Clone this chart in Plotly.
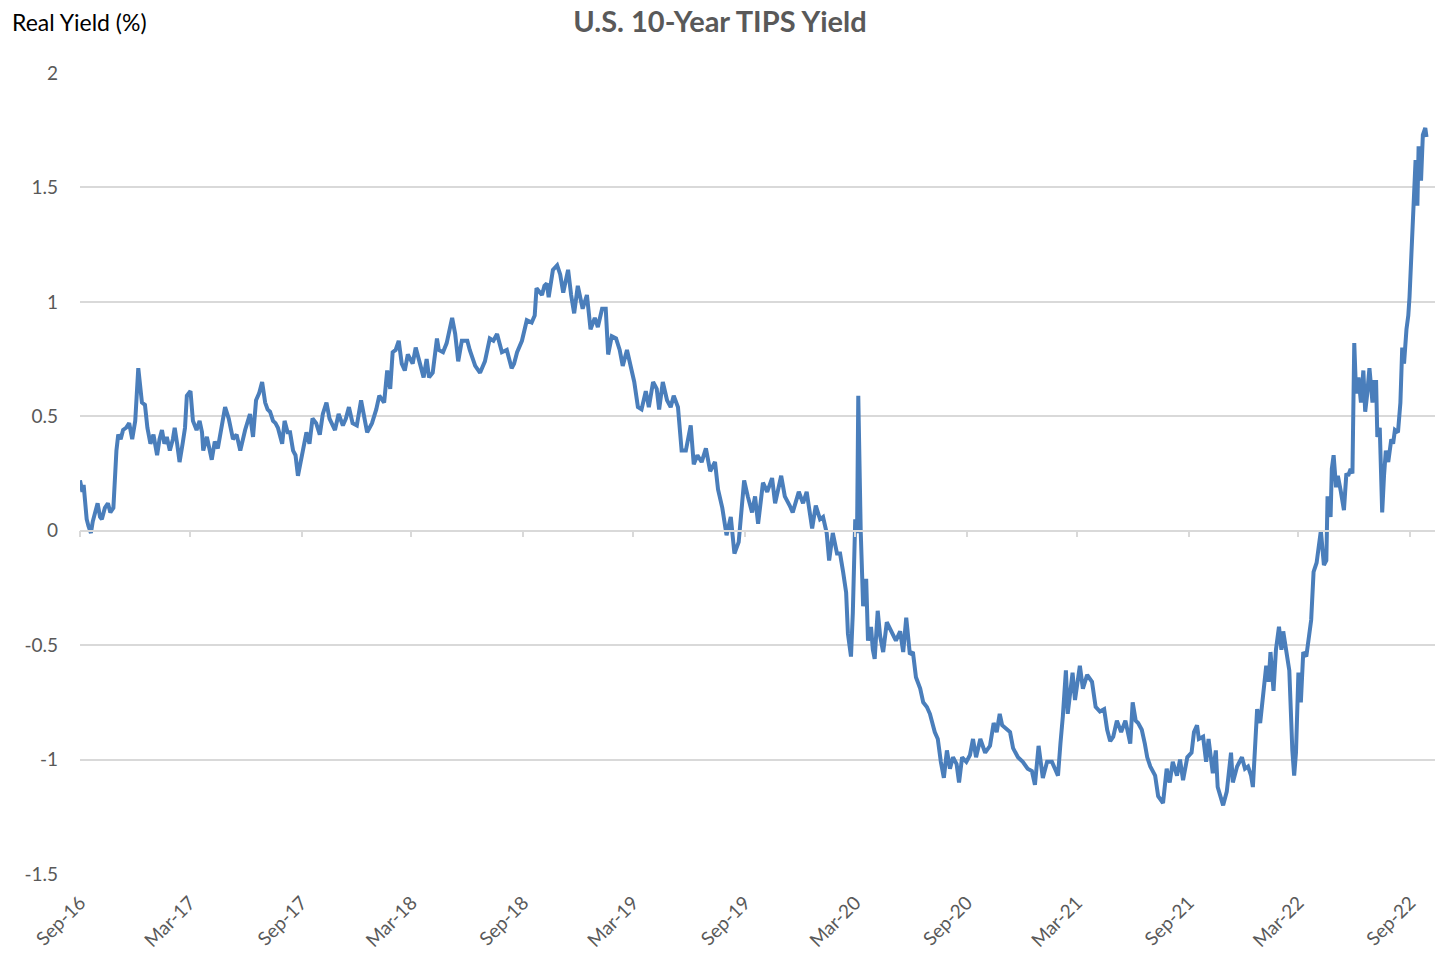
import plotly.graph_objects as go

# ---- data ----
dates = [
"2016-09-01","2016-09-05","2016-09-07","2016-09-12","2016-09-15","2016-09-19","2016-09-22","2016-09-26","2016-09-30",
"2016-10-04","2016-10-07","2016-10-12","2016-10-17","2016-10-21","2016-10-26","2016-10-31",
"2016-11-03","2016-11-07","2016-11-11","2016-11-16","2016-11-21","2016-11-26","2016-12-01","2016-12-06","2016-12-09",
"2016-12-12","2016-12-17","2016-12-21","2016-12-26","2016-12-31",
"2017-01-06","2017-01-10","2017-01-14","2017-01-18","2017-01-22","2017-01-27","2017-02-01","2017-02-04","2017-02-08",
"2017-02-12","2017-02-17","2017-02-21","2017-02-24","2017-03-02","2017-03-06","2017-03-12","2017-03-17","2017-03-21",
"2017-03-23","2017-03-29","2017-04-06","2017-04-11","2017-04-16","2017-04-22","2017-04-28","2017-05-04","2017-05-11",
"2017-05-17","2017-05-23","2017-05-31","2017-06-04","2017-06-08","2017-06-13","2017-06-18","2017-06-23","2017-06-28",
"2017-07-03","2017-07-07","2017-07-11","2017-07-16","2017-07-20","2017-07-24","2017-07-31","2017-08-04","2017-08-09",
"2017-08-13","2017-08-18","2017-08-22","2017-08-26","2017-08-30","2017-09-02","2017-09-09","2017-09-14","2017-09-19",
"2017-09-25","2017-10-01","2017-10-06","2017-10-12","2017-10-17","2017-10-26","2017-11-01","2017-11-08","2017-11-13",
"2017-11-18","2017-11-24","2017-12-01","2017-12-08","2017-12-13","2017-12-18","2017-12-22","2017-12-26",
"2018-01-02","2018-01-07","2018-01-15","2018-01-20","2018-01-25","2018-01-29","2018-02-03","2018-02-08","2018-02-13",
"2018-02-18","2018-02-23","2018-03-03","2018-03-08","2018-03-15","2018-03-21","2018-03-26","2018-03-30","2018-04-05",
"2018-04-12","2018-04-15","2018-04-22","2018-04-28","2018-05-07","2018-05-12","2018-05-17","2018-05-23","2018-06-01",
"2018-06-05","2018-06-14","2018-06-22","2018-06-30","2018-07-08","2018-07-14","2018-07-20","2018-07-28","2018-08-05",
"2018-08-13","2018-08-17","2018-08-22","2018-08-30","2018-09-07","2018-09-15","2018-09-20","2018-09-23","2018-09-28",
"2018-10-02","2018-10-06","2018-10-10","2018-10-13","2018-10-20","2018-10-27","2018-11-01","2018-11-06","2018-11-14",
"2018-11-19","2018-11-24","2018-11-30","2018-12-08","2018-12-15","2018-12-21","2018-12-28",
"2019-01-02","2019-01-09","2019-01-15","2019-01-19","2019-01-25","2019-02-01","2019-02-07","2019-02-12","2019-02-19",
"2019-02-25","2019-03-03","2019-03-09","2019-03-15","2019-03-22","2019-03-27","2019-04-03","2019-04-09","2019-04-13",
"2019-04-19","2019-04-26","2019-05-02","2019-05-07","2019-05-14","2019-05-20","2019-05-27","2019-06-04","2019-06-09",
"2019-06-15","2019-06-22","2019-06-29","2019-07-06","2019-07-14","2019-07-19","2019-07-26","2019-08-02","2019-08-09",
"2019-08-15","2019-08-22","2019-08-31","2019-09-06","2019-09-13","2019-09-18","2019-09-23","2019-10-01","2019-10-08",
"2019-10-16","2019-10-21","2019-10-31","2019-11-06","2019-11-14","2019-11-19","2019-11-29","2019-12-06","2019-12-12",
"2019-12-21","2019-12-27",
"2020-01-03","2020-01-08","2020-01-14","2020-01-18","2020-01-24","2020-01-31","2020-02-05","2020-02-10","2020-02-15",
"2020-02-18","2020-02-23","2020-02-26","2020-03-01","2020-03-04","2020-03-06","2020-03-10","2020-03-14","2020-03-19",
"2020-03-22","2020-03-27","2020-03-30","2020-04-02","2020-04-07","2020-04-11","2020-04-16","2020-04-22","2020-05-01",
"2020-05-07","2020-05-14","2020-05-19","2020-05-24","2020-05-30","2020-06-04","2020-06-09","2020-06-16","2020-06-21",
"2020-06-27","2020-07-02","2020-07-10","2020-07-15","2020-07-20","2020-07-25","2020-07-30","2020-08-04","2020-08-09",
"2020-08-15","2020-08-19","2020-08-24","2020-08-31","2020-09-06","2020-09-11","2020-09-16","2020-09-23","2020-10-01",
"2020-10-09","2020-10-15","2020-10-20","2020-10-25","2020-10-29","2020-11-03","2020-11-11","2020-11-16","2020-11-24",
"2020-12-02","2020-12-10","2020-12-17","2020-12-22","2020-12-28",
"2021-01-04","2021-01-11","2021-01-19","2021-01-24","2021-01-29","2021-02-02","2021-02-06","2021-02-11","2021-02-14",
"2021-02-22","2021-02-26","2021-03-06","2021-03-11","2021-03-18","2021-03-26","2021-04-01","2021-04-08","2021-04-15",
"2021-04-20","2021-04-25","2021-04-30","2021-05-06","2021-05-13","2021-05-20","2021-05-23","2021-05-28","2021-06-01",
"2021-06-06","2021-06-10","2021-06-16","2021-06-21","2021-06-25","2021-06-30","2021-07-08","2021-07-13","2021-07-21",
"2021-07-27","2021-08-01","2021-08-06","2021-08-13","2021-08-18","2021-08-23","2021-08-30","2021-09-06","2021-09-10",
"2021-09-15","2021-09-18","2021-09-25","2021-09-30","2021-10-04","2021-10-11","2021-10-16","2021-10-19","2021-10-28",
"2021-11-03","2021-11-10","2021-11-13","2021-11-20","2021-11-28","2021-12-03","2021-12-08","2021-12-13","2021-12-16",
"2021-12-23","2021-12-28",
"2022-01-03","2022-01-07","2022-01-11","2022-01-14","2022-01-19","2022-01-23","2022-01-28","2022-02-01","2022-02-04",
"2022-02-10","2022-02-14","2022-02-19","2022-02-22","2022-02-25","2022-03-01","2022-03-05","2022-03-09","2022-03-14",
"2022-03-17","2022-03-22","2022-03-26","2022-03-31","2022-04-03","2022-04-07","2022-04-12","2022-04-16","2022-04-18",
"2022-04-23","2022-04-25","2022-04-28","2022-05-02","2022-05-05","2022-05-10","2022-05-15","2022-05-19","2022-05-22",
"2022-05-26","2022-05-29","2022-06-01","2022-06-04","2022-06-08","2022-06-12","2022-06-16","2022-06-19","2022-06-22",
"2022-06-26","2022-07-01","2022-07-03","2022-07-07","2022-07-09","2022-07-13","2022-07-17","2022-07-20","2022-07-23",
"2022-07-27","2022-08-01","2022-08-04","2022-08-07","2022-08-12","2022-08-16","2022-08-19","2022-08-22","2022-08-26",
"2022-08-29","2022-08-31","2022-09-04","2022-09-07","2022-09-10","2022-09-13","2022-09-15","2022-09-19","2022-09-22",
"2022-09-26","2022-09-28",
]

real_yield = [
0.22,0.17,0.20,0.05,0.02,-0.01,0.04,0.08,0.12,
0.06,0.05,0.10,0.12,0.08,0.10,0.35,
0.42,0.40,0.44,0.45,0.47,0.40,0.48,0.71,0.62,
0.56,0.55,0.45,0.38,0.42,
0.33,0.40,0.44,0.38,0.41,0.35,0.40,0.45,0.38,
0.30,0.38,0.45,0.59,0.61,0.48,0.44,0.48,0.43,
0.35,0.41,0.31,0.39,0.36,0.45,0.54,0.49,0.40,
0.42,0.35,0.44,0.48,0.51,0.41,0.57,0.60,0.65,
0.56,0.53,0.52,0.48,0.47,0.45,0.38,0.48,0.43,
0.43,0.35,0.33,0.24,0.30,0.34,0.43,0.38,0.49,
0.47,0.42,0.51,0.56,0.49,0.44,0.51,0.46,0.49,
0.54,0.47,0.46,0.57,0.50,0.43,0.45,0.47,
0.53,0.59,0.56,0.70,0.62,0.78,0.79,0.83,0.73,
0.70,0.77,0.73,0.80,0.72,0.67,0.75,0.67,0.69,
0.84,0.79,0.78,0.82,0.93,0.86,0.74,0.83,0.83,
0.79,0.72,0.69,0.74,0.84,0.83,0.86,0.78,0.79,
0.71,0.73,0.78,0.83,0.92,0.91,0.94,1.06,1.04,
1.03,1.07,1.08,1.02,1.14,1.16,1.12,1.04,1.14,
1.03,0.95,1.07,0.97,1.03,0.88,0.93,
0.89,0.97,0.97,0.77,0.85,0.84,0.79,0.72,0.79,
0.72,0.65,0.54,0.53,0.61,0.54,0.65,0.62,0.53,
0.65,0.57,0.54,0.59,0.54,0.35,0.35,0.46,0.29,
0.33,0.30,0.36,0.26,0.30,0.18,0.10,-0.02,0.06,
-0.10,-0.05,0.22,0.15,0.08,0.15,0.03,0.21,0.17,
0.23,0.12,0.24,0.15,0.11,0.08,0.17,0.12,0.17,
0.01,0.11,
0.05,0.06,-0.01,-0.13,-0.01,-0.10,-0.10,-0.18,-0.27,
-0.45,-0.55,-0.36,0.05,-0.01,0.59,0.00,-0.33,-0.21,
-0.48,-0.42,-0.52,-0.56,-0.35,-0.46,-0.53,-0.40,-0.45,
-0.48,-0.44,-0.53,-0.38,-0.54,-0.53,-0.64,-0.69,-0.75,
-0.77,-0.80,-0.88,-0.91,-1.01,-1.08,-0.96,-1.04,-0.99,
-1.02,-1.10,-0.99,-1.01,-0.98,-0.91,-0.99,-0.91,-0.97,
-0.94,-0.84,-0.88,-0.80,-0.85,-0.86,-0.88,-0.95,-0.99,
-1.01,-1.04,-1.05,-1.11,-0.94,
-1.08,-1.01,-1.01,-1.04,-1.07,-0.93,-0.81,-0.61,-0.80,
-0.62,-0.74,-0.59,-0.69,-0.63,-0.66,-0.77,-0.79,-0.78,
-0.87,-0.92,-0.90,-0.83,-0.88,-0.83,-0.87,-0.93,-0.75,
-0.83,-0.84,-0.87,-0.93,-0.99,-1.03,-1.07,-1.16,-1.19,
-1.04,-1.10,-1.01,-1.07,-1.00,-1.09,-0.99,-0.97,-0.88,
-0.85,-0.91,-0.90,-1.01,-0.91,-1.06,-0.96,-1.12,-1.20,
-1.14,-0.97,-1.10,-1.03,-0.99,-1.04,-1.03,-1.07,-1.12,
-0.78,-0.84,
-0.69,-0.59,-0.66,-0.53,-0.70,-0.52,-0.42,-0.52,-0.44,
-0.53,-0.61,-0.96,-1.07,-0.97,-0.62,-0.75,-0.53,-0.55,
-0.48,-0.39,-0.18,-0.14,-0.08,0.00,-0.15,-0.13,0.15,
0.06,0.27,0.33,0.19,0.24,0.17,0.09,0.25,0.24,
0.27,0.25,0.82,0.60,0.67,0.56,0.70,0.52,0.59,
0.71,0.56,0.65,0.65,0.41,0.45,0.08,0.24,0.35,
0.30,0.40,0.38,0.44,0.43,0.56,0.80,0.73,0.88,
0.94,1.02,1.23,1.40,1.62,1.42,1.68,1.53,1.73,
1.76,1.72,
]

tick_dates = ["2016-09-01","2017-03-01","2017-09-01","2018-03-01","2018-09-01","2019-03-01",
              "2019-09-01","2020-03-01","2020-09-01","2021-03-01","2021-09-01","2022-03-01","2022-09-01"]
tick_labels = ["Sep-16","Mar-17","Sep-17","Mar-18","Sep-18","Mar-19","Sep-19",
               "Mar-20","Sep-20","Mar-21","Sep-21","Mar-22","Sep-22"]
y_ticks = [-1.5, -1, -0.5, 0, 0.5, 1, 1.5, 2]
y_tick_labels = ["-1.5", "-1", "-0.5", "0", "0.5", "1", "1.5", "2"]

x_range = ["2016-09-01", "2022-10-12"]
y_range = [-1.5, 2]

FONT = "Lato, 'Open Sans', sans-serif"
GRAY = "#595959"
GRID = "#D9D9D9"
LINE = "#4A7EBB"

fig = go.Figure()
fig.add_trace(go.Scatter(
    x=dates, y=real_yield, mode="lines",
    line=dict(color=LINE, width=4),
    showlegend=False, hoverinfo="x+y",
))

ML, MR, MT, MB = 80, 0, 73, 81
W, H = 1435, 955
PW, PH = W - ML - MR, H - MT - MB

fig.update_layout(
    width=W, height=H,
    margin=dict(l=ML, r=MR, t=MT, b=MB),
    paper_bgcolor="white", plot_bgcolor="white",
    font=dict(family=FONT, color=GRAY, size=19),
    title=dict(text="<b>U.S. 10-Year TIPS Yield</b>", x=720 / W, xanchor="center",
               xref="container", y=1 - 22 / H, yref="container", yanchor="middle",
               font=dict(family=FONT, size=29, color=GRAY)),
    xaxis=dict(
        type="date", range=x_range,
        tickvals=tick_dates, ticktext=tick_labels, tickangle=-45,
        showgrid=False, zeroline=False, showline=False, ticks="",
        tickfont=dict(family=FONT, size=19, color=GRAY),
        ticklabelstandoff=13,
    ),
    xaxis2=dict(
        type="date", range=x_range, overlaying="x", anchor="free",
        position=(0 - y_range[0]) / (y_range[1] - y_range[0]),
        tickvals=tick_dates, showticklabels=False,
        showgrid=False, zeroline=False, showline=True, linecolor=GRID, linewidth=1.5,
        ticks="outside", ticklen=6, tickcolor=GRID, tickwidth=1.5,
    ),
    yaxis=dict(
        range=y_range, tickvals=y_ticks, ticktext=y_tick_labels,
        showgrid=True, gridcolor=GRID, gridwidth=1.5,
        zeroline=False, showline=False, ticks="",
        tickfont=dict(family=FONT, size=19, color=GRAY),
        ticklabelstandoff=21,
    ),
    annotations=[dict(
        text="Real Yield (%)", xref="paper", yref="paper",
        x=(10 - ML) / PW, y=1 + (MT - 22) / PH,
        xanchor="left", yanchor="middle", showarrow=False,
        font=dict(family=FONT, size=23, color="#000000"),
    )],
)

# invisible trace to activate the zero-line axis
fig.add_trace(go.Scatter(x=[dates[0]], y=[None], xaxis="x2", yaxis="y",
                         showlegend=False, hoverinfo="skip"))

# remove the default page margin so the figure fills the window from its corner
fig.write_html("out.html", config={"displayModeBar": False},
               post_script="document.body.style.margin='0';")
